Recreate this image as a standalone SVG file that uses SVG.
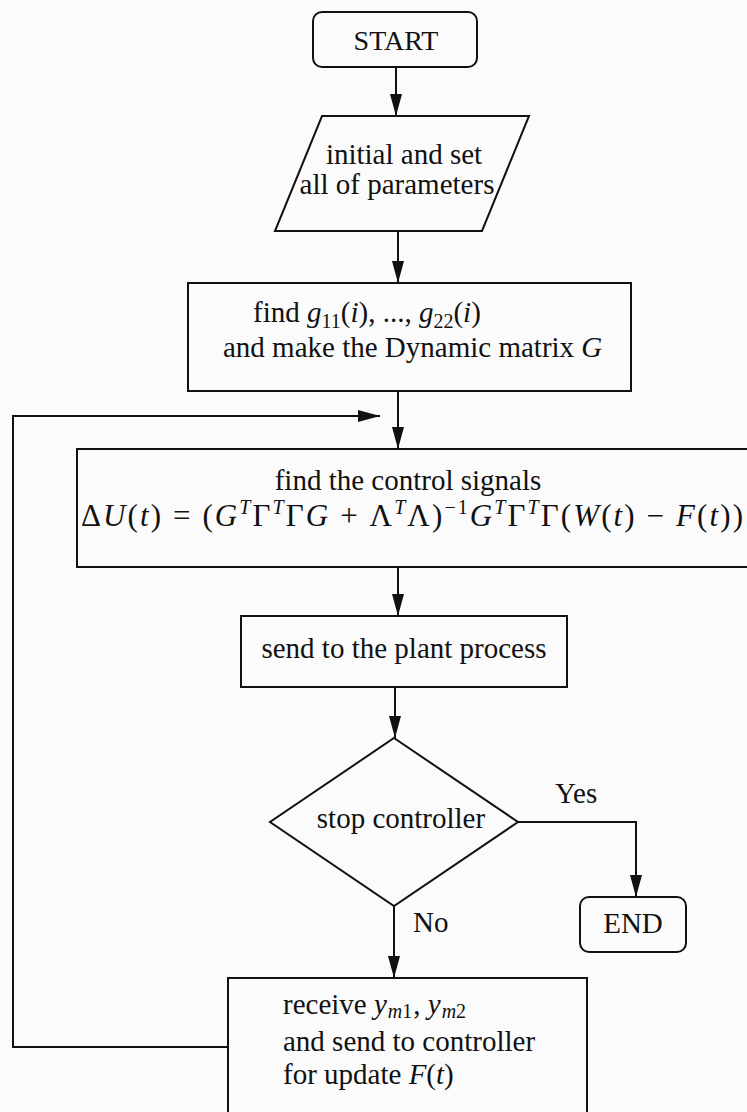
<svg xmlns="http://www.w3.org/2000/svg" width="747" height="1112" viewBox="0 0 747 1112">
<style>
.s{fill:none;stroke:#111;stroke-width:2}
.c{fill:none;stroke:#111;stroke-width:2}
.t{font-family:"Liberation Serif","Times New Roman",serif;font-size:29px;fill:#111}
.m{text-anchor:middle}
.i{font-style:italic}
.sm{font-size:20px}
.f{font-size:31px}
</style>
<defs>
<marker id="ah" markerWidth="22" markerHeight="12" refX="22" refY="6" orient="auto" markerUnits="userSpaceOnUse"><path d="M0,0 L22,6 L0,12 Z" fill="#111"/></marker>
</defs>
<rect width="747" height="1112" fill="#fbfbfb"/>
<g id="connectors">
<path class="c" d="M396,67 L396,116" marker-end="url(#ah)"/>
<path class="c" d="M398,231 L398,283" marker-end="url(#ah)"/>
<path class="c" d="M398,391 L398,449" marker-end="url(#ah)"/>
<path class="c" d="M398,567 L398,616" marker-end="url(#ah)"/>
<path class="c" d="M395,687 L395,738" marker-end="url(#ah)"/>
<path class="c" d="M518,822 L636,822 L636,897" marker-end="url(#ah)"/>
<path class="c" d="M394,906 L394,978" marker-end="url(#ah)"/>
<path class="c" d="M228,1047 L13,1047 L13,416 L380,416" marker-end="url(#ah)"/>
<text class="t" x="555" y="803">Yes</text>
<text class="t" x="413" y="932">No</text>
</g>
<g id="start">
<rect class="s" x="313" y="12" width="164" height="55" rx="9"/>
<text class="t m" x="396" y="50" style="font-size:28px">START</text>
</g>
<g id="init">
<polygon class="s" points="322,116 529,116 482,231 275,231"/>
<text class="t m" x="404" y="164">initial and set</text>
<text class="t m" x="397" y="194">all of parameters</text>
</g>
<g id="findg">
<rect class="s" x="188" y="283" width="443" height="108"/>
<text class="t" x="253" y="322">find <tspan class="i">g</tspan><tspan class="sm" dy="6">11</tspan><tspan dy="-6">(</tspan><tspan class="i">i</tspan><tspan>), ..., </tspan><tspan class="i">g</tspan><tspan class="sm" dy="6">22</tspan><tspan dy="-6">(</tspan><tspan class="i">i</tspan><tspan>)</tspan></text>
<text class="t" x="223" y="357">and make the Dynamic matrix <tspan class="i">G</tspan></text>
</g>
<g id="control">
<rect class="s" x="77" y="449" width="690" height="118"/>
<text class="t m" x="408" y="490">find the control signals</text>
<text class="t f" x="81" y="526" textLength="662" lengthAdjust="spacing"><tspan>Δ</tspan><tspan class="i">U</tspan><tspan>(</tspan><tspan class="i">t</tspan><tspan>) = (</tspan><tspan class="i">G</tspan><tspan class="i sm" dy="-12">T</tspan><tspan dy="12">Γ</tspan><tspan class="i sm" dy="-12">T</tspan><tspan dy="12">Γ</tspan><tspan class="i">G</tspan><tspan> + Λ</tspan><tspan class="i sm" dy="-12">T</tspan><tspan dy="12">Λ)</tspan><tspan class="sm" dy="-12">−1</tspan><tspan class="i" dy="12">G</tspan><tspan class="i sm" dy="-12">T</tspan><tspan dy="12">Γ</tspan><tspan class="i sm" dy="-12">T</tspan><tspan dy="12">Γ(</tspan><tspan class="i">W</tspan><tspan>(</tspan><tspan class="i">t</tspan><tspan>) − </tspan><tspan class="i">F</tspan><tspan>(</tspan><tspan class="i">t</tspan><tspan>))</tspan></text>
</g>
<g id="send">
<rect class="s" x="241" y="616" width="326" height="71"/>
<text class="t m" x="404" y="658">send to the plant process</text>
</g>
<g id="stop">
<polygon class="s" points="394,738 518,822 394,906 270,822"/>
<text class="t m" x="401" y="828">stop controller</text>
</g>
<g id="end">
<rect class="s" x="580" y="897" width="106" height="55" rx="9"/>
<text class="t m" x="633" y="933">END</text>
</g>
<g id="receive">
<rect class="s" x="228" y="978" width="359" height="150"/>
<text class="t" x="283" y="1014">receive <tspan class="i">y</tspan><tspan class="i sm" dx="1" dy="4">m</tspan><tspan class="sm">1</tspan><tspan dx="1" dy="-4">, </tspan><tspan class="i">y</tspan><tspan class="i sm" dx="1" dy="4">m</tspan><tspan class="sm">2</tspan></text>
<text class="t" x="283" y="1051">and send to controller</text>
<text class="t" x="283" y="1084">for update <tspan class="i">F</tspan><tspan>(</tspan><tspan class="i">t</tspan><tspan>)</tspan></text>
</g>
</svg>
